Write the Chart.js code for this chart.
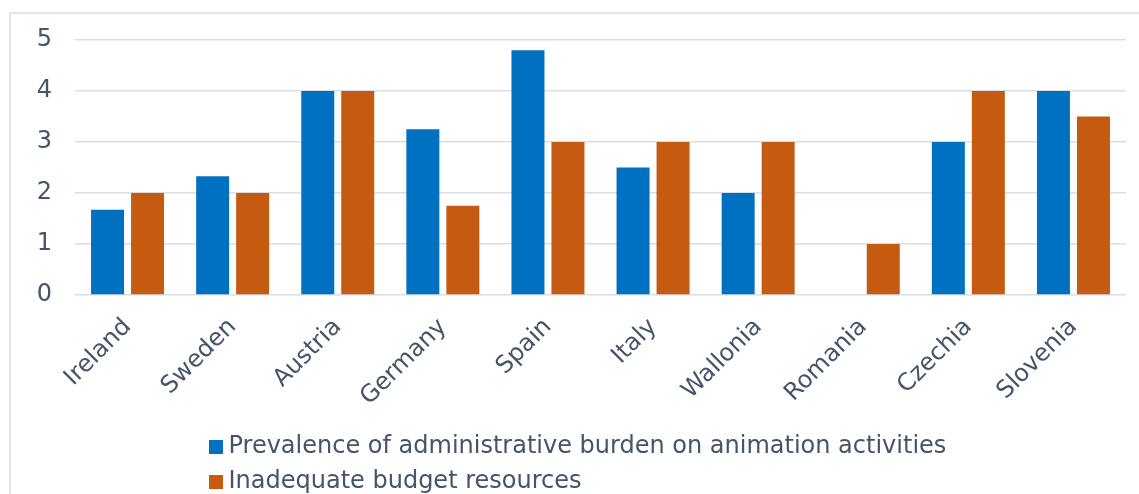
<!DOCTYPE html>
<html>
<head>
<meta charset="utf-8">
<script src="https://cdn.jsdelivr.net/npm/chart.js@4"></script>
<style>
  html, body { margin: 0; padding: 0; overflow: hidden; background: #ffffff; width: 1139px; height: 494px; }
  #hline { position: absolute; left: 9px; top: 12px; width: 1200px; height: 2px; background: #e1e5eb; }
  #vline { position: absolute; left: 9px; top: 12px; width: 2px; height: 600px; background: #e1e5eb; }
  #wrap { position: absolute; left: 0; top: 0; width: 1139px; height: 504px; }
</style>
</head>
<body>
<div id="hline"></div>
<div id="vline"></div>
<div id="wrap"><canvas id="c" width="1139" height="504"></canvas></div>
<script>
const categories = ["Ireland", "Sweden", "Austria", "Germany", "Spain", "Italy", "Wallonia", "Romania", "Czechia", "Slovenia"];
const adminBurden = [1.67, 2.33, 4, 3.25, 4.8, 2.5, 2, 0, 3, 4];
const budgetResources = [2, 2, 4, 1.75, 3, 3, 3, 1, 4, 3.5];
const seriesNames = ["Prevalence of administrative burden on animation activities", "Inadequate budget resources"];
const yTicks = [0, 1, 2, 3, 4, 5];

const COLORS = ["#0070C0", "#C55A11"];
const TEXT = "#44546A";
const FONT = "'DejaVu Sans', Verdana, sans-serif";

function swatch(color) {
  const cv = document.createElement('canvas');
  cv.width = 14; cv.height = 14;
  const g = cv.getContext('2d');
  g.fillStyle = color; g.fillRect(0, 0, 14, 14);
  return cv;
}
const swatches = COLORS.map(swatch);

const legendShift = {
  id: 'legendShift',
  afterLayout(chart) {
    if (chart.legend) { chart.legend.left = 204.5; }
  }
};

new Chart(document.getElementById('c'), {
  type: 'bar',
  data: {
    labels: categories,
    datasets: [
      { label: seriesNames[0], data: adminBurden, backgroundColor: COLORS[0], borderWidth: 0 },
      { label: seriesNames[1], data: budgetResources, backgroundColor: COLORS[1], borderWidth: 0 }
    ]
  },
  options: {
    responsive: false,
    animation: false,
    datasets: { bar: { categoryPercentage: 0.761, barPercentage: 0.825 } },
    layout: { padding: { left: 0, right: 13, top: 40, bottom: 0 } },
    scales: {
      x: {
        grid: { display: false, drawTicks: false },
        border: { display: false },
        ticks: { color: TEXT, font: { family: FONT, size: 24 }, minRotation: 45, maxRotation: 45, padding: 18, autoSkip: false },
        afterFit(s) { s.height = 129; s.paddingLeft = 0; s.paddingRight = 0; }
      },
      y: {
        min: 0, max: 5,
        grid: { color: '#d9dee6', lineWidth: 1.6, drawTicks: false },
        border: { display: false },
        afterBuildTicks(s) { s.ticks = yTicks.map(v => ({ value: v })); },
        ticks: { color: TEXT, font: { family: FONT, size: 24 }, padding: 23 },
        afterFit(s) { s.width = 75; s.paddingTop = 0; s.paddingBottom = 0; }
      }
    },
    plugins: {
      tooltip: { enabled: false },
      legend: {
        position: 'bottom',
        align: 'start',
        fullSize: false,
        labels: {
          color: TEXT,
          font: { family: FONT, size: 24 },
          usePointStyle: true,
          boxWidth: 1,
          padding: 11,
          generateLabels(chart) {
            const items = Chart.defaults.plugins.legend.labels.generateLabels(chart);
            items.forEach((it, i) => { it.pointStyle = swatches[i]; });
            return items;
          }
        }
      }
    }
  },
  plugins: [legendShift]
});
</script>
</body>
</html>
